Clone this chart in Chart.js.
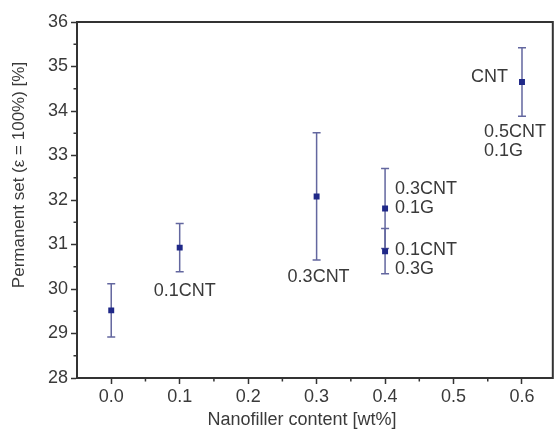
<!DOCTYPE html>
<html>
<head>
<meta charset="utf-8">
<script src="https://cdn.jsdelivr.net/npm/chart.js@4.4.0/dist/chart.umd.min.js"></script>
<style>
  html, body { margin: 0; padding: 0; background: #fff; }
  canvas { display: block; }
</style>
</head>
<body>
<canvas id="chart" width="557" height="430"></canvas>
<script>
// Nanofiller content [wt%] and permanent set values
const contents = [0.0, 0.1, 0.3, 0.4, 0.4, 0.6];
const permanentSet = [29.52, 30.93, 32.08, 31.81, 30.85, 34.65];
const errors = [0.6, 0.54, 1.43, 0.9, 0.51, 0.77];
const xTicks = [0.0, 0.1, 0.2, 0.3, 0.4, 0.5, 0.6];
const yTicks = [28, 29, 30, 31, 32, 33, 34, 35, 36];
const xTitle = 'Nanofiller content [wt%]';
const yTitle = 'Permanent set (\u03b5 = 100%) [%]';

const FONT = '"Liberation Sans", Arial, sans-serif';
const TEXT = '#3a3a3a';
const AXIS = '#333';

// label placement (pixel offsets from the point), index 0 has no label
const labelLayout = [
  null,
  { text: ['0.1CNT'], dx: 5, dy: 43, align: 'center' },
  { text: ['0.3CNT'], dx: 2, dy: 81, align: 'center' },
  { text: ['0.3CNT', '0.1G'], dx: 10, dy: -19, align: 'left' },
  { text: ['0.1CNT', '0.3G'], dx: 10, dy: -1, align: 'left' },
  { text: ['CNT'], dx: -14, dy: -5, align: 'right' }
];
const extraLabel = { index: 5, text: ['0.5CNT', '0.1G'], dx: -38, dy: 50, align: 'left' };

const errorBarPlugin = {
  id: 'errorBars',
  beforeDatasetsDraw(chart) {
    const ctx = chart.ctx;
    const xs = chart.scales.x, ys = chart.scales.y;
    ctx.save();
    ctx.strokeStyle = '#63679f';
    ctx.lineWidth = 1.5;
    contents.forEach((c, i) => {
      const px = xs.getPixelForValue(c);
      const top = ys.getPixelForValue(permanentSet[i] + errors[i]);
      const bot = ys.getPixelForValue(permanentSet[i] - errors[i]);
      ctx.beginPath();
      ctx.moveTo(px, top); ctx.lineTo(px, bot);
      ctx.moveTo(px - 4, top); ctx.lineTo(px + 4, top);
      ctx.moveTo(px - 4, bot); ctx.lineTo(px + 4, bot);
      ctx.stroke();
    });
    ctx.restore();
  }
};

function drawLabel(ctx, chart, i, lay) {
  const px = chart.scales.x.getPixelForValue(contents[i]) + lay.dx;
  const py = chart.scales.y.getPixelForValue(permanentSet[i]) + lay.dy;
  ctx.textAlign = lay.align;
  lay.text.forEach((t, k) => ctx.fillText(t, px, py + k * 18.5));
}

const framePlugin = {
  id: 'frame',
  afterDraw(chart) {
    const ctx = chart.ctx;
    const a = chart.chartArea;
    const xs = chart.scales.x, ys = chart.scales.y;
    ctx.save();
    // minor ticks
    ctx.strokeStyle = AXIS;
    ctx.lineWidth = 1.5;
    ctx.beginPath();
    for (let v = -0.05; v <= 0.65; v += 0.1) {
      const px = xs.getPixelForValue(v);
      if (px < a.left + 1 || px > a.right - 1) continue;
      ctx.moveTo(px, a.bottom); ctx.lineTo(px, a.bottom + 3.5);
    }
    for (let v = 28.5; v < 36; v += 1) {
      const py = ys.getPixelForValue(v);
      ctx.moveTo(a.left, py); ctx.lineTo(a.left - 3.5, py);
    }
    ctx.stroke();
    // frame
    ctx.lineWidth = 2;
    ctx.strokeRect(a.left, a.top, a.right - a.left, a.bottom - a.top);
    // annotations
    ctx.fillStyle = TEXT;
    ctx.font = '18px ' + FONT;
    ctx.textBaseline = 'middle';
    labelLayout.forEach((lay, i) => { if (lay) drawLabel(ctx, chart, i, lay); });
    drawLabel(ctx, chart, extraLabel.index, extraLabel);
    // axis titles
    ctx.textAlign = 'center';
    ctx.fillText(xTitle, 302, 420);
    ctx.translate(19, 175);
    ctx.rotate(-Math.PI / 2);
    ctx.font = '17px ' + FONT;
    ctx.fillText(yTitle, 0, 0);
    ctx.restore();
  }
};

new Chart(document.getElementById('chart'), {
  type: 'scatter',
  data: {
    datasets: [{
      data: contents.map((c, i) => ({ x: c, y: permanentSet[i] })),
      pointStyle: 'rect',
      pointRadius: 4.2,
      backgroundColor: '#1f2888',
      borderColor: '#1f2888',
      borderWidth: 0
    }]
  },
  options: {
    responsive: false,
    animation: false,
    layout: { padding: { top: 22, right: 2, left: 0, bottom: 0 } },
    plugins: { legend: { display: false }, tooltip: { enabled: false } },
    scales: {
      x: {
        type: 'linear',
        min: -0.05,
        max: 0.645,
        afterBuildTicks: s => { s.ticks = xTicks.map(v => ({ value: v })); },
        afterFit: s => { s.height = 52; },
        grid: { drawOnChartArea: false, tickLength: 6, tickWidth: 1.5, tickColor: AXIS },
        border: { display: true, color: AXIS, width: 2 },
        ticks: {
          color: TEXT, padding: 2,
          font: { family: FONT, size: 18 },
          callback: v => v.toFixed(1)
        },
        title: { display: false }
      },
      y: {
        min: 28,
        max: 36,
        afterBuildTicks: s => { s.ticks = yTicks.map(v => ({ value: v })); },
        afterFit: s => { s.width = 77; },
        grid: { drawOnChartArea: false, tickLength: 6, tickWidth: 1.5, tickColor: AXIS },
        border: { display: true, color: AXIS, width: 2 },
        ticks: {
          color: TEXT, padding: 3,
          font: { family: FONT, size: 18 }
        },
        title: { display: false }
      }
    }
  },
  plugins: [errorBarPlugin, framePlugin]
});
</script>
</body>
</html>
